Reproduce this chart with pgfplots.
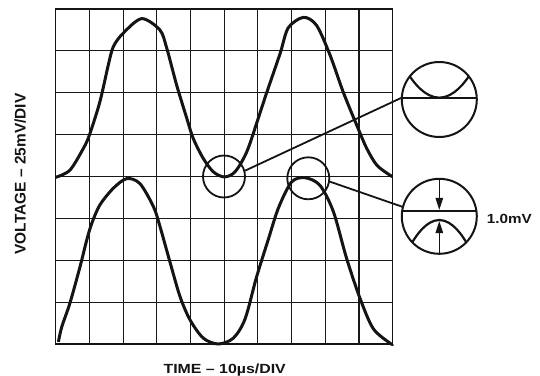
\documentclass[border=0pt]{standalone}
\usepackage{pgfplots}
\pgfplotsset{compat=1.18}
\usepackage{fontspec}
\setmainfont{Liberation Sans}
\usetikzlibrary{arrows.meta}
\begin{document}
\begin{tikzpicture}
\path[use as bounding box] (0,0) rectangle (540bp,376bp);
\begin{axis}[at={(55.7bp,32bp)}, anchor=south west, scale only axis,
  width=337bp, height=335bp, xmin=0, xmax=10, ymin=0, ymax=8,
  xtick={0,1,...,10}, ytick={0,1,...,8}, xticklabels={}, yticklabels={},
  major tick length=0pt, grid=major,
  grid style={line width=1.1bp, color=black!90},
  axis line style={line width=1.5bp, black!92}, clip=false]
\addplot[smooth, line width=3bp, black!92] coordinates {
(0,3.98) (0.42,4.15) (0.82,4.67) (1.0,4.99) (1.31,5.78) (1.56,6.66) (1.71,7.10)
(2.0,7.42) (2.55,7.77) (3.09,7.5) (3.29,7.08) (3.59,6.18) (3.89,5.39) (4.08,4.91)
(4.38,4.43) (4.68,4.11) (5.0,3.99) (5.32,4.11) (5.67,4.59) (6.01,5.39) (6.26,6.0)
(6.66,6.94) (6.90,7.55) (7.35,7.80) (7.74,7.61) (8.14,6.90) (8.53,6.02) (8.93,5.23)
(9.23,4.67) (9.53,4.27) (9.92,4.03) (10,4.0)};
\addplot[smooth, line width=3bp, black!92] coordinates {
(0.08,0.05) (0.18,0.41) (0.42,0.97) (0.72,1.84) (0.92,2.48) (1.07,2.88) (1.31,3.32)
(1.71,3.72) (2.11,3.95) (2.50,3.83) (2.90,3.28) (3.09,2.82) (3.39,1.96) (3.69,1.13)
(3.99,0.57) (4.38,0.14) (4.82,0.0) (5.27,0.14) (5.62,0.6) (5.96,1.6) (6.31,2.5)
(6.61,3.25) (7.0,3.87) (7.4,3.97) (7.84,3.79) (8.24,3.16) (8.63,2.05) (9.03,1.09)
(9.42,0.37) (9.92,0.02) (10,0.0)};
\end{axis}
\begin{scope}[x=1bp, y=1bp, black!92]
% small circles and leader lines
\draw[line width=1.8bp] (224,199.5) circle (21);
\draw[line width=1.8bp] (308.3,197.7) circle (21);
\draw[line width=1.8bp] (245,205.3) -- (401.7,278.3);
\draw[line width=1.8bp] (330,194.3) -- (403,169);
% big circle 1
\begin{scope}[shift={(439.3,276.5)}]
\draw[line width=2bp] (0,0) circle (37.5);
\draw[line width=2.2bp] (-37.46,1.8) -- (37.46,1.8);
\draw[line width=2.2bp] (-29.5,23.1) parabola bend (0,1.8) (29.5,23.1);
\end{scope}
% big circle 2
\begin{scope}[shift={(439.3,159.7)}]
\draw[line width=2bp] (0,0) circle (37.5);
\draw[line width=2.2bp] (-37.12,5.3) -- (37.12,5.3);
\draw[line width=2.2bp] (-27,-26) parabola bend (0,-3.7) (27,-26);
\draw[line width=1bp, -{Triangle[length=12bp,width=7.5bp]}] (0,37.5) -- (0,6.4);
\draw[line width=1bp, -{Triangle[length=12bp,width=7.5bp]}] (0,-37.5) -- (0,-4.8);
\end{scope}
\node[anchor=base west, inner sep=0pt, xscale=1.15, font=\bfseries\fontsize{13.3}{15}\selectfont] at (486.7,152.7) {1.0mV};
\node[anchor=base west, inner sep=0pt, xscale=1.2, font=\bfseries\fontsize{13.3}{15}\selectfont] at (163.3,2.5) {TIME – 10µs/DIV};
\node[anchor=base, rotate=90, inner sep=0pt, font=\bfseries\fontsize{15.5}{17}\selectfont] at (25.5,202) {VOLTAGE – 25mV/DIV};
\end{scope}
\end{tikzpicture}
\end{document}
